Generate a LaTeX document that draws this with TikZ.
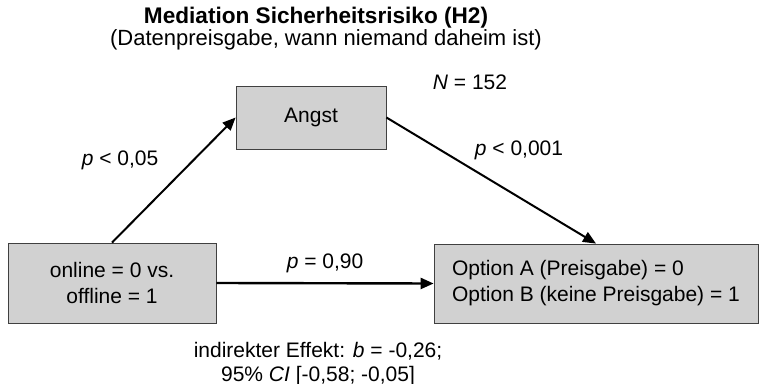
\documentclass[tikz,border=0pt]{standalone}
\usepackage{fontspec}
\setmainfont{Liberation Sans}
\usetikzlibrary{positioning, arrows.meta}

\begin{document}
\begin{tikzpicture}[
    x=0.5pt, y=-0.5pt,
    every node/.style={font=\fontsize{10.5}{13}\selectfont, inner sep=0pt},
    varbox/.style={draw=black!75, fill=black!18, rectangle, align=center},
    arrow/.style={-{Triangle[length=6.5pt, width=5.5pt]}, line width=1pt}
]
\useasboundingbox (0,0) rectangle (759,384);

% title
\node[font=\bfseries\fontsize{11.3}{13}\selectfont] (title) at (316,18) {Mediation Sicherheitsrisiko (H2)};
\node[font=\fontsize{11}{13}\selectfont] (subtitle) at (326,40) {(Datenpreisgabe, wann niemand daheim ist)};
\node (n) at (470,82) {\textit{N} = 152};

% boxes
\node[varbox, minimum width=104pt, minimum height=40pt] (online) at (112,283) {online = 0 vs.\\offline = 1};
\node[varbox, minimum width=75pt, minimum height=31.5pt] (angst) at (311,117.5) {Angst};
\node[varbox, minimum width=162pt, minimum height=39.5pt, align=left] (option) at (596,283.5) {Option A (Preisgabe) = 0\\Option B (keine Preisgabe) = 1};

% paths
\draw[arrow] (online.north) -- (angst.west);
\draw[arrow] (angst.east) -- (option.north);
\draw[arrow, line width=1.2pt] (online.east) -- (option.west);

% labels
\node (p1) at (120,160) {\textit{p} < 0,05};
\node (p2) at (519,150) {\textit{p} < 0,001};
\node (p3) at (325,263) {\textit{p} = 0,90};
\node[align=center, font=\fontsize{10.5}{11.8}\selectfont] (indirect) at (318,364) {indirekter Effekt: \textit{b} = -0,26;\\95\% \textit{CI} [-0,58; -0,05]};
\end{tikzpicture}
\end{document}
